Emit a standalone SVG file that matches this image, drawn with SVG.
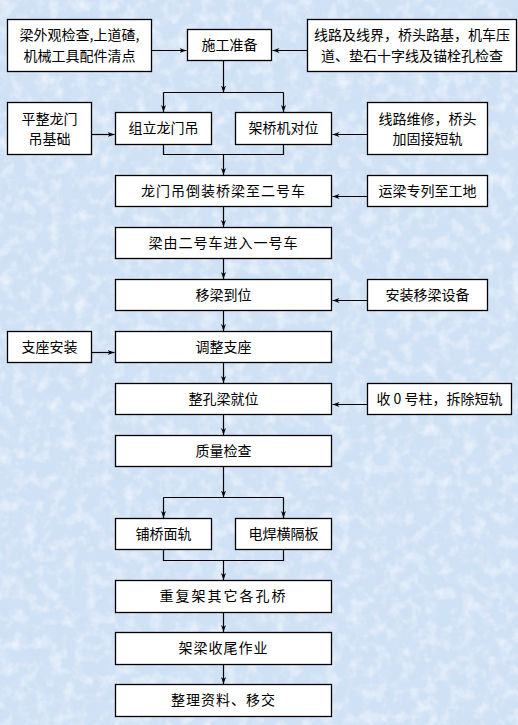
<svg xmlns="http://www.w3.org/2000/svg" width="518" height="725" viewBox="0 0 518 725">
<style>
.b{fill:#fff;stroke:#000;stroke-width:1.3}
.t{font-family:"Noto Sans CJK SC","Noto Sans CJK JP",sans-serif;font-size:14px;fill:#000;text-anchor:middle}
.c{fill:none;stroke:#000;stroke-width:1.2}
.a{marker-end:url(#ah)}
</style>
<defs>
<marker id="ah" markerWidth="8" markerHeight="6" refX="7" refY="3" orient="auto" markerUnits="userSpaceOnUse">
<path d="M0,0.5 L7,3 L0,5.5 L2,3 Z" fill="#000"/>
</marker>
<filter id="tex" x="0" y="0" width="100%" height="100%">
<feTurbulence type="fractalNoise" baseFrequency="0.08" numOctaves="3" seed="4"/>
<feColorMatrix type="matrix" values="0 0 0 0 1  0 0 0 0 1  0 0 0 0 1  0 0 0 -2.2 1.25"/>
</filter>
</defs>
<rect x="0" y="0" width="518" height="725" fill="#cfe1f5"/>
<rect x="0" y="0" width="518" height="725" filter="url(#tex)" opacity="0.55"/>
<g id="connectors">
<path class="c a" d="M151.5,50.5 H186.5"/>
<path class="c a" d="M307.5,50.5 H272.5"/>
<path class="c a" d="M223.5,60.5 V92.5"/>
<path class="c" d="M163.5,92.5 H283.5"/>
<path class="c a" d="M163.5,92.5 V112"/>
<path class="c a" d="M283.5,92.5 V112"/>
<path class="c a" d="M91.5,134.5 H114.5"/>
<path class="c a" d="M367.5,134.5 H332.5"/>
<path class="c" d="M163.5,144.5 V154.5 H283.5 V144.5"/>
<path class="c a" d="M223.5,154.5 V175"/>
<path class="c a" d="M367.5,196.5 H332.5"/>
<path class="c a" d="M223.5,206.5 V227"/>
<path class="c a" d="M223.5,258.5 V279"/>
<path class="c a" d="M367.5,300.5 H332.5"/>
<path class="c a" d="M223.5,310.5 V331"/>
<path class="c a" d="M91.5,352.5 H114.5"/>
<path class="c a" d="M223.5,362.5 V383"/>
<path class="c a" d="M367.5,404.5 H332.5"/>
<path class="c a" d="M223.5,414.5 V435"/>
<path class="c a" d="M223.5,466.5 V497.5"/>
<path class="c" d="M163.5,497.5 H283.5"/>
<path class="c a" d="M163.5,497.5 V518"/>
<path class="c a" d="M283.5,497.5 V518"/>
<path class="c" d="M163.5,549.5 V560.5 H283.5 V549.5"/>
<path class="c a" d="M223.5,560.5 V580"/>
<path class="c a" d="M223.5,612.5 V632"/>
<path class="c a" d="M223.5,664.5 V684"/>
</g>
<g id="n1"><rect class="b" x="7.5" y="19.5" width="144" height="52"/><text class="t" x="79.5" y="40">梁外观检查,上道碴,</text><text class="t" x="79.5" y="61">机械工具配件清点</text></g>
<g id="n2"><rect class="b" x="187.5" y="29.5" width="84" height="31"/><text class="t" x="229.5" y="50">施工准备</text></g>
<g id="n3"><rect class="b" x="307.5" y="19.5" width="209" height="52"/><text class="t" x="412" y="40">线路及线界，桥头路基，机车压</text><text class="t" x="412" y="61">道、垫石十字线及锚栓孔检查</text></g>
<g id="n4"><rect class="b" x="7.5" y="102.5" width="84" height="52"/><text class="t" x="49.5" y="124">平整龙门</text><text class="t" x="49.5" y="144">吊基础</text></g>
<g id="n5"><rect class="b" x="115.5" y="112.5" width="96" height="32"/><text class="t" x="163.5" y="133">组立龙门吊</text></g>
<g id="n6"><rect class="b" x="235.5" y="112.5" width="96" height="32"/><text class="t" x="283.5" y="133">架桥机对位</text></g>
<g id="n7"><rect class="b" x="367.5" y="102.5" width="120" height="52"/><text class="t" x="427.5" y="124">线路维修，桥头</text><text class="t" x="427.5" y="144">加固接短轨</text></g>
<g id="n8"><rect class="b" x="115.5" y="175.5" width="216" height="31"/><text class="t" x="223.5" y="196" letter-spacing="1">龙门吊倒装桥梁至二号车</text></g>
<g id="n9"><rect class="b" x="367.5" y="175.5" width="120" height="31"/><text class="t" x="427.5" y="196">运梁专列至工地</text></g>
<g id="n10"><rect class="b" x="115.5" y="227.5" width="216" height="31"/><text class="t" x="223.5" y="248" letter-spacing="1">梁由二号车进入一号车</text></g>
<g id="n11"><rect class="b" x="115.5" y="279.5" width="216" height="31"/><text class="t" x="223.5" y="300">移梁到位</text></g>
<g id="n12"><rect class="b" x="367.5" y="279.5" width="120" height="31"/><text class="t" x="427.5" y="300">安装移梁设备</text></g>
<g id="n13"><rect class="b" x="115.5" y="331.5" width="216" height="31"/><text class="t" x="223.5" y="352">调整支座</text></g>
<g id="n14"><rect class="b" x="7.5" y="331.5" width="84" height="31"/><text class="t" x="49.5" y="352">支座安装</text></g>
<g id="n15"><rect class="b" x="115.5" y="383.5" width="216" height="31"/><text class="t" x="223.5" y="404">整孔梁就位</text></g>
<g id="n16"><rect class="b" x="367.5" y="383.5" width="144" height="31"/><text class="t" x="439.5" y="404">收 0 号柱，拆除短轨</text></g>
<g id="n17"><rect class="b" x="115.5" y="435.5" width="216" height="31"/><text class="t" x="223.5" y="456">质量检查</text></g>
<g id="n18"><rect class="b" x="115.5" y="518.5" width="96" height="31"/><text class="t" x="163.5" y="539">铺桥面轨</text></g>
<g id="n19"><rect class="b" x="235.5" y="518.5" width="96" height="31"/><text class="t" x="283.5" y="539">电焊横隔板</text></g>
<g id="n20"><rect class="b" x="115.5" y="580.5" width="216" height="32"/><text class="t" x="223.5" y="601" letter-spacing="2">重复架其它各孔桥</text></g>
<g id="n21"><rect class="b" x="115.5" y="632.5" width="216" height="32"/><text class="t" x="223.5" y="653" letter-spacing="1">架梁收尾作业</text></g>
<g id="n22"><rect class="b" x="115.5" y="684.5" width="216" height="32"/><text class="t" x="223.5" y="705" letter-spacing="1">整理资料、移交</text></g>
</svg>
